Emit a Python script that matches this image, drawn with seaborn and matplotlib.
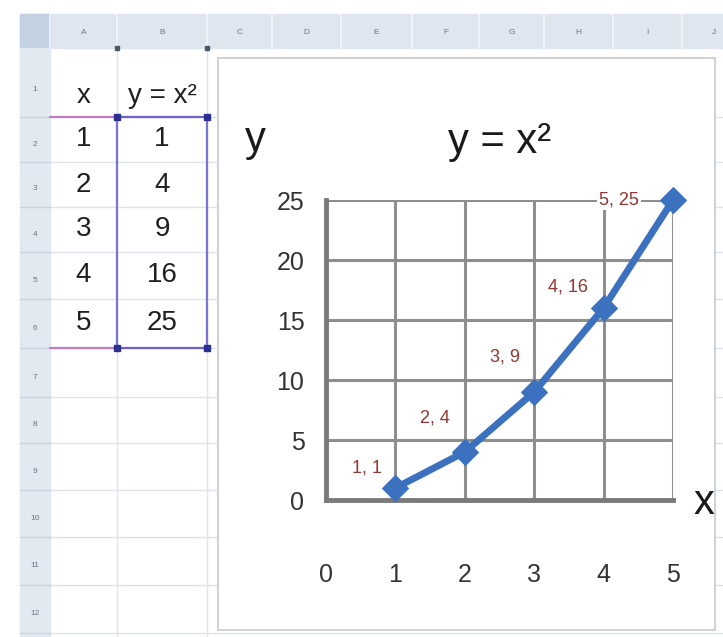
"""Spreadsheet screenshot: table of y = x^2 with an Excel-style scatter chart."""
import matplotlib
matplotlib.use("Agg")
import matplotlib.pyplot as plt
import pandas as pd
import seaborn as sns
from matplotlib.patches import Rectangle

# data
x_vals = [1, 2, 3, 4, 5]
y_vals = [1, 4, 9, 16, 25]
x_ticks = [0, 1, 2, 3, 4, 5]
y_ticks = [0, 5, 10, 15, 20, 25]
col_letters = ["A", "B", "C", "D", "E", "F", "G", "H", "I", "J"]
row_numbers = [str(i) for i in range(1, 13)]
table_header = ["x", "y = x²"]

# layout (pixels of the 723x637 screenshot)
W, H = 723, 637
col_edges = [50, 117, 207, 272, 341, 412, 479, 544, 613, 682, 745]
row_edges = [48, 117, 162, 207, 252, 299, 348, 397, 443, 490, 537, 585, 633]
label_offsets = [(-28, 20), (-30, 34), (-29, 35), (-36, 21), (-54, 0)]

LINE = "#3b71bf"
LABEL = "#943634"
GRID = "#8e8e8e"
AXIS = "#7a7a7a"
TEXT = "#1f1f1f"

sns.set_theme(style="white")
plt.rcParams["font.family"] = ["Liberation Sans Narrow", "Liberation Sans", "DejaVu Sans"]

fig = plt.figure(figsize=(W / 100, H / 100), dpi=100)
bg = fig.add_axes([0, 0, 1, 1])
bg.set_xlim(0, W)
bg.set_ylim(H, 0)
bg.axis("off")

# sheet headers
bg.add_patch(Rectangle((20, 14), W - 20, 34, color="#dfe6ef", zorder=1))
bg.add_patch(Rectangle((20, 14), 30, 34, color="#c3d1e3", zorder=1))
bg.add_patch(Rectangle((20, 48), 30, H - 48, color="#e2e9f1", zorder=1))
for i, letter in enumerate(col_letters):
    c0, c1 = col_edges[i], col_edges[i + 1]
    bg.plot([c0, c0], [14, 48], color="#f4f7fa", lw=1.2, zorder=2)
    bg.text((c0 + c1) / 2, 32, letter, ha="center", va="center",
            fontsize=6, color="#6b7586", zorder=3)
for i, num in enumerate(row_numbers):
    r0, r1 = row_edges[i], row_edges[i + 1]
    bg.plot([20, 50], [r1, r1], color="#c9d3df", lw=1, zorder=2)
    bg.text(35, r0 + (r1 - r0) * 0.6, num, ha="center", va="center",
            fontsize=6, color="#6b7586", zorder=3)

# cell gridlines
for r in row_edges[1:]:
    bg.plot([50, W], [r, r], color="#dde3ea", lw=1, zorder=1)
for c in col_edges[1:3]:
    bg.plot([c, c], [48, H], color="#dde3ea", lw=1, zorder=1)

# table values
centers = [(col_edges[0] + col_edges[1]) / 2, (col_edges[1] + col_edges[2]) / 2]
for j, head in enumerate(table_header):
    bg.text(centers[j], 96, head, ha="center", va="center",
            fontsize=20, color=TEXT, zorder=3)
for i, (xv, yv) in enumerate(zip(x_vals, y_vals)):
    yc = (row_edges[i + 1] + row_edges[i + 2]) / 2
    bg.text(centers[0], yc, str(xv), ha="center", va="center",
            fontsize=20, color=TEXT, zorder=3)
    bg.text(centers[1], yc, str(yv), ha="center", va="center",
            fontsize=20, color=TEXT, zorder=3)

# range highlight borders
top, bot = row_edges[1], row_edges[6]
for yy in (top, bot):
    bg.plot([50, 117], [yy, yy], color="#c27bbf", lw=1.6, zorder=4)
    bg.plot([117, 207], [yy, yy], color="#6c62c9", lw=1.6, zorder=4)
for xx in (117, 207):
    bg.plot([xx, xx], [top, bot], color="#7b74d6", lw=1.6, zorder=4)
    bg.plot([xx], [48], marker="s", ms=3, color="#4a5a6a", zorder=4)
for xx in (117, 207):
    for yy in (top, bot):
        bg.plot([xx], [yy], marker="s", ms=4.5, color="#2b2f8f", zorder=5)

# chart area
bg.add_patch(Rectangle((218, 58), 497, 572, facecolor="white",
                       edgecolor="#cfd3d8", lw=1.5, zorder=6))
bg.text(255, 140, "y", ha="center", va="center", fontsize=30,
        color="#1a1a1a", zorder=7)
bg.text(500, 142, "y = x²", ha="center", va="center", fontsize=30,
        color="#1a1a1a", zorder=7)
bg.text(704, 503, "x", ha="center", va="center", fontsize=30,
        color="#1a1a1a", zorder=7)

ax = fig.add_axes([326 / W, (H - 500) / H, (673 - 326) / W, 300 / H])
ax.set_zorder(10)
ax.patch.set_alpha(0)

df = pd.DataFrame({"x": x_vals, "y": y_vals})
sns.lineplot(data=df, x="x", y="y", ax=ax, color=LINE, linewidth=5,
             marker="D", markersize=13, markeredgecolor=LINE,
             clip_on=False, zorder=5)

ax.set_xlim(0, 5)
ax.set_ylim(0, 25)
ax.set_xticks(x_ticks)
ax.set_yticks(y_ticks)
ax.set_xlabel("")
ax.set_ylabel("")
ax.grid(True, color=GRID, lw=2.2)
ax.set_axisbelow(True)
for side in ("top", "right"):
    ax.spines[side].set_visible(False)
for side in ("left", "bottom"):
    ax.spines[side].set_color(AXIS)
    ax.spines[side].set_linewidth(3.5)
ax.tick_params(direction="inout", length=11, width=3, color=AXIS,
               labelsize=18, labelcolor="#333333")
ax.tick_params(axis="x", pad=40)
ax.tick_params(axis="y", pad=10)

for (xv, yv), (dx, dy) in zip(zip(x_vals, y_vals), label_offsets):
    ax.annotate(f"{xv}, {yv}", (xv, yv), xytext=(dx, dy),
                textcoords="offset pixels", ha="center", va="center",
                fontsize=13, color=LABEL, zorder=6,
                bbox=dict(boxstyle="square,pad=0.1", fc="white", ec="none")
                if yv == max(y_vals) else None)

fig.savefig("out.png", dpi=100)
